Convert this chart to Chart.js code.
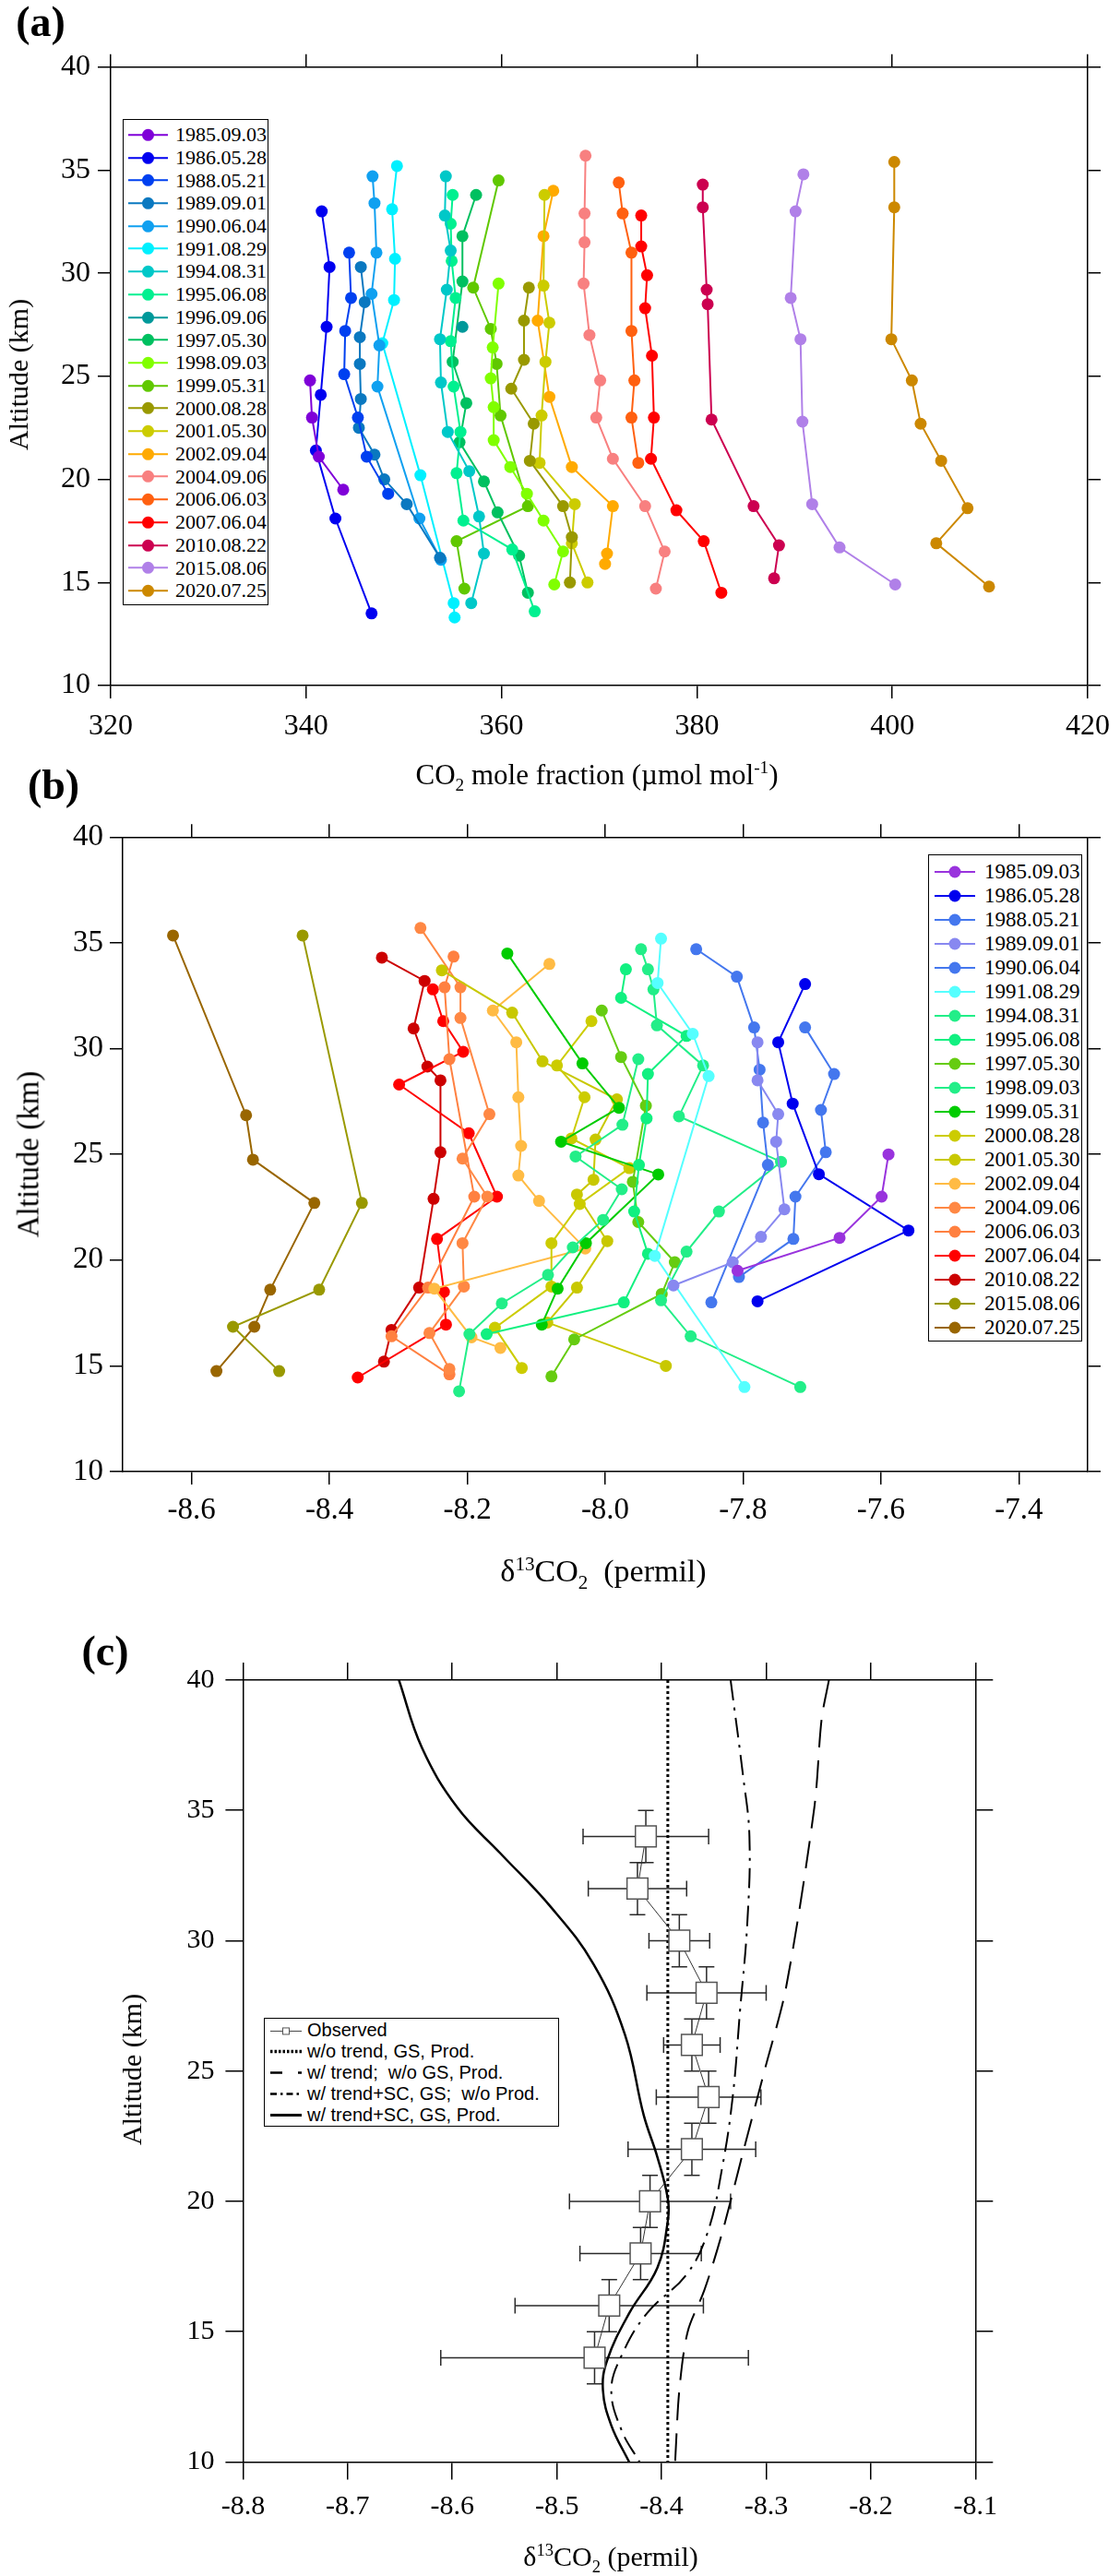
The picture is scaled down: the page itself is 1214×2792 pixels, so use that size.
<!DOCTYPE html>
<html>
<head>
<meta charset="utf-8">
<script src="https://cdn.jsdelivr.net/npm/chart.js@4.4.1/dist/chart.umd.min.js"></script>
<style>
  html, body { margin:0; padding:0; background:#fff; }
  body { width:1214px; height:2792px; position:relative; overflow:hidden; font-family:'Liberation Serif', serif; color:#000; }
  canvas { position:absolute; left:0; }
  .lbl { position:absolute; white-space:nowrap; line-height:1; transform:translate(-50%,-50%); }
  .ytitle { transform:translate(-50%,-50%) rotate(-90deg); }
  .panel { font-weight:bold; font-size:46px; }
  sub, sup { font-size:0.62em; line-height:0; }
  .legend { position:absolute; border:1.5px solid #000; background:#fff; box-sizing:border-box; }
  .legend .row { position:absolute; left:0; white-space:nowrap; display:flex; align-items:center; }
  .legend svg { position:absolute; }
</style>
</head>
<body>
<canvas id="chartA" width="1214" height="880" style="top:0px"></canvas>
<canvas id="chartB" width="1214" height="860" style="top:880px"></canvas>
<canvas id="chartC" width="1214" height="1052" style="top:1740px"></canvas>

<div class="lbl panel" style="left:44px;top:24px">(a)</div>
<div class="lbl panel" style="left:58px;top:851px">(b)</div>
<div class="lbl panel" style="left:114px;top:1790px">(c)</div>

<div class="lbl ytitle" style="left:20px;top:406px;font-size:30px">Altitude (km)</div>
<div class="lbl" style="left:647px;top:839px;font-size:31px">CO<sub>2</sub> mole fraction (µmol mol<sup>-1</sup>)</div>
<div class="lbl ytitle" style="left:31px;top:1251px;font-size:33px">Altitude (km)</div>
<div class="lbl" style="left:654px;top:1703px;font-size:34px">δ<sup>13</sup>CO<sub>2</sub>&nbsp; (permil)</div>
<div class="lbl ytitle" style="left:143px;top:2243px;font-size:30px">Altitude (km)</div>
<div class="lbl" style="left:662px;top:2771px;font-size:30px">δ<sup>13</sup>CO<sub>2</sub> (permil)</div>

<div class="legend" id="legA" style="left:133px;top:129px;width:158px;height:527px"></div>
<div class="legend" id="legB" style="left:1006px;top:926px;width:167px;height:528px"></div>
<div class="legend" id="legC" style="left:286px;top:2187px;width:320px;height:118px"></div>

<script>
// ---------- (a) CO2 mole fraction profiles ----------
const datesA = ['1985.09.03','1986.05.28','1988.05.21','1989.09.01','1990.06.04','1991.08.29','1994.08.31',
  '1995.06.08','1996.09.06','1997.05.30','1998.09.03','1999.05.31','2000.08.28','2001.05.30','2002.09.04',
  '2004.09.06','2006.06.03','2007.06.04','2010.08.22','2015.08.06','2020.07.25'];
const colorsA = ['#7F00D8','#0000F0','#0040F0','#0A78C0','#10A0F0','#00F0FF','#00C8C8',
  '#00F090','#00999A','#00C060','#80FF00','#60C800','#999900','#CCCC00','#FFAA00',
  '#F88080','#FF6010','#FF0000','#CC0050','#B080E8','#CC8800'];
const co2A = [
  [340.4,340.6,341.3,343.8],
  [341.6,342.4,342.1,341.5,341.0,343.0,346.7],
  [344.4,344.6,344.0,343.9,345.3,346.2,348.4],
  [345.6,346.0,345.5,345.5,345.6,345.4,347.0,348.0,350.3,353.7],
  [346.8,347.0,347.2,346.7,347.5,347.3,351.6,353.8],
  [349.3,348.8,349.1,349.0,347.8,351.7,355.1,355.2],
  [354.3,354.2,354.8,354.4,353.7,353.8,354.5,356.7,357.7,358.2,356.9],
  [355.0,354.8,354.9,355.3,354.8,355.1,355.8,355.4,356.1,361.1,363.4],
  [356.0],
  [357.4,356.0,356.0,355.0,356.4,355.7,358.2,359.6,361.8,362.7],
  [359.7,359.1,358.9,359.2,359.2,360.9,362.6,364.3,366.3,365.4],
  [359.7,357.1,358.9,359.5,359.9,362.7,355.4,356.2],
  [362.8,362.3,362.3,361.0,363.3,362.9,366.3,367.2,367.0],
  [364.4,364.3,364.9,364.5,364.1,363.9,367.5,367.2,368.8],
  [365.3,364.3,363.7,364.9,367.2,371.4,370.8,370.6],
  [368.6,368.5,368.5,368.4,369.0,370.1,369.7,371.4,374.7,376.7,375.8],
  [372.0,372.4,373.3,373.3,373.6,373.3,374.0],
  [374.3,374.3,374.9,374.7,375.4,375.6,375.3,377.9,380.7,382.5],
  [380.6,380.6,381.0,381.1,381.5,385.8,388.4,387.9],
  [390.9,390.1,389.6,390.6,390.8,391.8,394.6,400.3],
  [400.2,400.2,399.9,402.0,402.9,405.0,407.7,404.5,409.9]
];
const altA = [
  [24.8,23.0,21.1,19.5],
  [33.0,30.3,27.4,24.1,21.4,18.1,13.5],
  [31.0,28.8,27.2,25.1,23.0,21.1,19.3],
  [30.3,28.6,26.9,25.6,23.9,22.5,21.2,20.0,18.8,16.2],
  [34.7,33.4,31.0,29.0,26.5,24.5,18.1,16.1],
  [35.2,33.1,30.7,28.7,26.6,20.2,14.0,13.3],
  [34.7,32.8,31.1,29.2,26.8,24.7,22.3,20.4,18.2,16.4,14.0],
  [33.8,32.4,30.6,28.8,26.7,24.5,22.3,20.3,18.0,16.6,13.6],
  [27.4],
  [33.8,31.8,29.6,25.7,23.7,21.8,19.9,18.4,16.3,14.5],
  [29.5,26.4,24.9,23.5,21.9,20.6,19.3,18.0,16.5,14.9],
  [34.5,29.3,27.3,25.6,23.1,18.7,17.0,14.7],
  [29.3,27.7,25.8,24.4,22.7,20.9,18.7,17.2,15.0],
  [33.8,29.4,27.6,25.7,23.1,20.8,18.8,16.9,15.0],
  [34.0,31.8,27.7,24.0,20.6,18.7,16.4,15.9],
  [35.7,32.9,31.5,29.5,27.0,24.8,23.0,21.0,18.7,16.5,14.7],
  [34.4,32.9,31.0,27.2,24.8,23.0,20.8],
  [32.8,31.3,29.9,28.3,26.0,23.0,21.0,18.5,17.0,14.5],
  [34.3,33.2,29.2,28.5,22.9,18.7,16.8,15.2],
  [34.8,33.0,28.8,26.8,22.8,18.8,16.7,14.9],
  [35.4,33.2,26.8,24.8,22.7,20.9,18.6,16.9,14.8]
];
const xTicksA = [320,340,360,380,400,420];
const altTicks = [10,15,20,25,30,35,40];

// ---------- (b) d13C profiles ----------
const datesB = ['1985.09.03','1986.05.28','1988.05.21','1989.09.01','1990.06.04','1991.08.29','1994.08.31',
  '1995.06.08','1997.05.30','1998.09.03','1999.05.31','2000.08.28','2001.05.30','2002.09.04',
  '2004.09.06','2006.06.03','2007.06.04','2010.08.22','2015.08.06','2020.07.25'];
const colorsB = ['#9933DD','#0000EE','#4477EE','#8888F0','#4477EE','#55FFFF','#22EE88',
  '#11F080','#66CC11','#22EE88','#00CC00','#CCCC00','#C8C800','#FFBB44',
  '#FF8844','#FF8040','#FF0000','#CC0000','#999900','#996600'];
const d13cB = [
  [-7.589,-7.599,-7.660,-7.808],
  [-7.710,-7.749,-7.728,-7.690,-7.560,-7.779],
  [-7.710,-7.668,-7.687,-7.680,-7.724,-7.727,-7.806],
  [-7.779,-7.779,-7.749,-7.752,-7.740,-7.774,-7.815,-7.901],
  [-7.868,-7.809,-7.784,-7.776,-7.771,-7.764,-7.846],
  [-7.919,-7.924,-7.873,-7.850,-7.928,-7.798],
  [-7.948,-7.938,-7.930,-7.925,-7.858,-7.893,-7.745,-7.835,-7.882,-7.919,-7.876,-7.717],
  [-7.970,-7.977,-7.882,-7.938,-7.940,-7.951,-7.958,-7.938,-7.973,-8.172],
  [-8.005,-7.977,-7.941,-7.960,-7.952,-7.899,-7.918,-8.045,-8.078],
  [-7.952,-7.975,-8.043,-7.976,-8.003,-8.047,-8.083,-8.150,-8.197,-8.212],
  [-8.142,-8.033,-7.980,-8.064,-7.923,-8.028,-8.069,-8.092],
  [-8.020,-8.070,-8.030,-8.049,-7.965,-8.037,-8.078,-8.078,-8.160,-8.121],
  [-8.237,-8.135,-8.091,-7.983,-8.014,-8.017,-8.041,-7.997,-8.041,-8.084,-7.912],
  [-8.081,-8.163,-8.129,-8.126,-8.122,-8.126,-8.096,-8.029,-8.248,-8.194,-8.152],
  [-8.268,-8.210,-8.210,-8.168,-8.207,-8.171,-8.207,-8.205,-8.255,-8.226],
  [-8.220,-8.233,-8.226,-8.190,-8.257,-8.310,-8.226],
  [-8.250,-8.235,-8.206,-8.299,-8.198,-8.157,-8.244,-8.234,-8.231,-8.359],
  [-8.324,-8.262,-8.278,-8.258,-8.239,-8.239,-8.249,-8.270,-8.310,-8.321],
  [-8.439,-8.353,-8.415,-8.540,-8.473],
  [-8.627,-8.521,-8.511,-8.422,-8.486,-8.509,-8.564]
];
const altB = [
  [25.0,23.0,21.05,19.5],
  [33.05,30.3,27.4,24.06,21.4,18.05],
  [31.0,28.8,27.1,25.1,23.0,21.0,19.2],
  [30.3,28.5,26.9,25.6,22.4,21.1,19.9,18.8],
  [34.7,33.4,31.0,29.0,26.5,24.5,18.0],
  [35.2,33.1,30.7,28.7,20.2,14.0],
  [34.7,33.75,32.8,31.1,29.2,26.8,24.65,22.3,20.4,18.1,16.4,14.0],
  [33.75,32.4,30.6,28.8,26.7,24.5,22.3,20.3,18.0,16.5],
  [31.8,29.6,27.3,23.7,21.8,19.9,18.4,16.25,14.5],
  [29.5,26.4,24.9,23.35,21.9,20.6,19.3,17.95,16.5,13.8],
  [34.5,29.3,27.2,25.6,24.05,20.8,18.65,16.95],
  [31.3,29.2,27.7,25.75,24.35,22.65,20.8,18.75,16.8,14.9],
  [33.7,31.7,29.4,27.6,25.7,23.8,23.1,20.9,18.7,17.05,15.0],
  [34.0,31.8,30.3,27.7,25.4,24.0,22.8,20.55,18.65,16.35,15.85],
  [35.7,32.9,31.45,26.9,24.8,23.0,20.8,18.75,16.55,14.85],
  [34.35,32.9,29.5,23.0,18.7,16.4,14.6],
  [32.8,31.3,29.85,28.3,26.0,23.0,21.0,18.5,16.95,14.45],
  [34.3,33.2,30.95,29.15,28.5,25.1,22.9,18.7,16.7,15.2],
  [35.35,22.7,18.6,16.85,14.75],
  [35.35,26.85,24.75,22.7,18.6,16.85,14.75]
];
const xTicksB = [-8.6,-8.4,-8.2,-8.0,-7.8,-7.6,-7.4];

// ---------- (c) observed mean profile and model runs ----------
const obsAltC    = [34,32,30,28,26,24,22,20,18,16,14];
const obsD13cC   = [-8.415,-8.423,-8.383,-8.357,-8.371,-8.355,-8.371,-8.411,-8.420,-8.450,-8.464];
const obsErrD13c = [0.060,0.047,0.029,0.057,0.027,0.050,0.061,0.077,0.058,0.090,0.147];
const obsErrAlt  = [1,1,1,1,1,1,1,1,1,1,1];
const altNoTrend  = [40,10];
const d13cNoTrend = [-8.394,-8.394];
const altTrendNoGS  = [40,38.5,35.1,28.2,25.1,21.9,18.8,16.6,15.0,12.75,10];
const d13cTrendNoGS = [-8.240,-8.247,-8.254,-8.281,-8.301,-8.322,-8.342,-8.359,-8.375,-8.383,-8.387];
const altNoProd  = [40,36.3,34.0,30.7,27.3,24.0,21.3,18.8,17.2,15.7,14.1,12.75,11.2,10];
const d13cNoProd = [-8.334,-8.322,-8.316,-8.318,-8.325,-8.332,-8.342,-8.356,-8.376,-8.414,-8.438,-8.448,-8.438,-8.421];
const altFull  = [40,37.4,35.1,33.35,31.3,29.1,26.4,23.3,21.7,20.1,19.25,17.45,15.7,13.9,12.75,11.4,10];
const d13cFull = [-8.651,-8.629,-8.595,-8.554,-8.506,-8.465,-8.435,-8.417,-8.404,-8.394,-8.394,-8.404,-8.431,-8.452,-8.456,-8.448,-8.431];
const xTicksC = [-8.8,-8.7,-8.6,-8.5,-8.4,-8.3,-8.2,-8.1];
const legendC = ['Observed','w/o trend, GS, Prod.','w/ trend;  w/o GS, Prod.','w/ trend+SC, GS;  w/o Prod.','w/ trend+SC, GS, Prod.'];

Chart.defaults.font.family = "'Liberation Serif', serif";
Chart.defaults.color = '#000';

const pts = (xs, ys) => xs.map((v, j) => ({x: v, y: ys[j]}));

// box of four axes with outward ticks; only bottom and left carry labels
function boxScales(o) {
  const grid = {display: true, drawOnChartArea: false, drawTicks: true, tickLength: o.tick, color: '#000', lineWidth: 1.5};
  const border = {display: true, color: '#000', width: 1.5};
  const setTicks = vals => s => { s.ticks = vals.map(v => ({value: v})); };
  return {
    x: {type: 'linear', position: 'bottom', min: o.xMin, max: o.xMax, grid, border,
        afterBuildTicks: setTicks(o.xTicks),
        ticks: {font: {size: o.font}, padding: o.padX, maxRotation: 0, autoSkip: false, callback: o.xFmt},
        afterFit: s => { s.height = o.bottom; }},
    x2: {type: 'linear', position: 'top', min: o.xMin, max: o.xMax, grid, border,
        afterBuildTicks: setTicks(o.xTicks), ticks: {display: false},
        afterFit: s => { s.height = o.top; }},
    y: {type: 'linear', position: 'left', min: 10, max: 40, grid, border,
        afterBuildTicks: setTicks(altTicks),
        ticks: {font: {size: o.font}, padding: o.padY, autoSkip: false, callback: v => String(v)},
        afterFit: s => { s.width = o.left; }},
    y2: {type: 'linear', position: 'right', min: 10, max: 40, grid, border,
        afterBuildTicks: setTicks(altTicks), ticks: {display: false},
        afterFit: s => { s.width = o.right; }}
  };
}

function profileSets(dates, colors, xs, alts) {
  return dates.map((d, i) => ({
    label: d, data: pts(xs[i], alts[i]), showLine: true,
    borderColor: colors[i], backgroundColor: colors[i], borderWidth: 2,
    pointRadius: 6.5, pointBorderWidth: 0, tension: 0
  }));
}

const common = {responsive: false, animation: false, events: [], layout: {padding: 0},
  plugins: {legend: {display: false}, tooltip: {enabled: false}}};

new Chart(document.getElementById('chartA'), {
  type: 'scatter',
  data: {datasets: profileSets(datesA, colorsA, co2A, altA)},
  options: {...common, scales: boxScales({xMin: 320, xMax: 420, xTicks: xTicksA, xFmt: v => String(v),
    left: 120, right: 28, top: 72.7, bottom: 137, tick: 14, font: 32, padX: 11, padY: 8})}
});

new Chart(document.getElementById('chartB'), {
  type: 'scatter',
  data: {datasets: profileSets(datesB, colorsB, d13cB, altB)},
  options: {...common, scales: boxScales({xMin: -8.7, xMax: -7.3, xTicks: xTicksB, xFmt: v => v.toFixed(1),
    left: 133, right: 35, top: 27.3, bottom: 145, tick: 14, font: 33, padX: 9, padY: 7})}
});

const errorBars = {
  id: 'errorBars',
  beforeDatasetsDraw(chart) {
    const {ctx, scales: {x, y}} = chart;
    ctx.save();
    ctx.strokeStyle = '#2a2a2a';
    ctx.lineWidth = 1.5;
    obsAltC.forEach((a, i) => {
      const px = x.getPixelForValue(obsD13cC[i]), py = y.getPixelForValue(a);
      const x0 = x.getPixelForValue(obsD13cC[i] - obsErrD13c[i]);
      const x1 = x.getPixelForValue(obsD13cC[i] + obsErrD13c[i]);
      const y0 = y.getPixelForValue(a - obsErrAlt[i]);
      const y1 = y.getPixelForValue(a + obsErrAlt[i]);
      ctx.beginPath();
      ctx.moveTo(x0, py); ctx.lineTo(x1, py);
      ctx.moveTo(x0, py - 8.5); ctx.lineTo(x0, py + 8.5);
      ctx.moveTo(x1, py - 8.5); ctx.lineTo(x1, py + 8.5);
      ctx.moveTo(px, y0); ctx.lineTo(px, y1);
      ctx.moveTo(px - 8.5, y0); ctx.lineTo(px + 8.5, y0);
      ctx.moveTo(px - 8.5, y1); ctx.lineTo(px + 8.5, y1);
      ctx.stroke();
    });
    ctx.restore();
  }
};

new Chart(document.getElementById('chartC'), {
  type: 'scatter',
  data: {datasets: [
    {label: legendC[0], data: pts(obsD13cC, obsAltC), showLine: true, borderColor: '#333', borderWidth: 1,
     pointStyle: 'rect', pointRadius: 16, pointBackgroundColor: '#fff', pointBorderColor: '#555', pointBorderWidth: 1.5},
    {label: legendC[1], data: pts(d13cNoTrend, altNoTrend), showLine: true, borderColor: '#000', borderWidth: 3,
     borderDash: [3, 3], pointRadius: 0},
    {label: legendC[2], data: pts(d13cTrendNoGS, altTrendNoGS), showLine: true, borderColor: '#000', borderWidth: 2,
     borderDash: [30, 14], pointRadius: 0, tension: 0.3},
    {label: legendC[3], data: pts(d13cNoProd, altNoProd), showLine: true, borderColor: '#000', borderWidth: 2,
     borderDash: [22, 8, 3, 8], pointRadius: 0, tension: 0.4},
    {label: legendC[4], data: pts(d13cFull, altFull), showLine: true, borderColor: '#000', borderWidth: 2.5,
     pointRadius: 0, tension: 0.4}
  ]},
  options: {...common, scales: boxScales({xMin: -8.8, xMax: -8.1, xTicks: xTicksC, xFmt: v => v.toFixed(1),
    left: 263.4, right: 156.7, top: 80.9, bottom: 123.6, tick: 19, font: 30, padX: 12, padY: 12})},
  plugins: [errorBars]
});

// ---------- HTML legends ----------
function dotLegend(id, dates, colors, g) {
  const box = document.getElementById(id);
  dates.forEach((d, i) => {
    const row = document.createElement('div');
    row.className = 'row';
    row.style.top = (g.first + i * g.pitch - g.pitch / 2) + 'px';
    row.style.height = g.pitch + 'px';
    row.style.width = '100%';
    row.style.fontSize = g.font + 'px';
    const h = g.pitch;
    row.innerHTML =
      `<svg width="${g.lineW}" height="${h}" style="left:${g.lineX}px;top:0">` +
      `<line x1="0" y1="${h / 2}" x2="${g.lineW}" y2="${h / 2}" stroke="${colors[i]}" stroke-width="2"/>` +
      `<circle cx="${g.lineW / 2}" cy="${h / 2}" r="6.5" fill="${colors[i]}"/></svg>` +
      `<span style="position:absolute;left:${g.textX}px">${d}</span>`;
    box.appendChild(row);
  });
}
dotLegend('legA', datesA, colorsA, {first: 16.3, pitch: 24.7, lineX: 5, lineW: 43, textX: 56, font: 22});
dotLegend('legB', datesB, colorsB, {first: 18, pitch: 26, lineX: 6, lineW: 44, textX: 60, font: 23});

(function () {
  const box = document.getElementById('legC');
  const samples = [
    '<line x1="0" y1="H" x2="34" y2="H" stroke="#444" stroke-width="1"/><rect x="13.5" y="H2" width="7" height="7" fill="#fff" stroke="#555" stroke-width="1"/>',
    '<line x1="0" y1="H" x2="34" y2="H" stroke="#000" stroke-width="3.5" stroke-dasharray="2.5 2"/>',
    '<line x1="0" y1="H" x2="34" y2="H" stroke="#000" stroke-width="2.5" stroke-dasharray="13 17"/>',
    '<line x1="0" y1="H" x2="34" y2="H" stroke="#000" stroke-width="2.5" stroke-dasharray="7 4 2.5 4"/>',
    '<line x1="0" y1="H" x2="34" y2="H" stroke="#000" stroke-width="3"/>'
  ];
  const pitch = 22.9, h = pitch;
  legendC.forEach((t, i) => {
    const row = document.createElement('div');
    row.className = 'row';
    row.style.top = (13 + i * pitch - pitch / 2) + 'px';
    row.style.height = h + 'px';
    row.style.width = '100%';
    row.style.font = "20px 'Liberation Sans', Arial, sans-serif";
    row.innerHTML = `<svg width="34" height="${h}" style="left:6px;top:0">` +
      samples[i].replace(/"H"/g, '"' + (h / 2) + '"').replace(/"H2"/g, '"' + (h / 2 - 3.5) + '"') + '</svg>' +
      `<span style="position:absolute;left:46px;white-space:pre">${t}</span>`;
    box.appendChild(row);
  });
})();
</script>
</body>
</html>
